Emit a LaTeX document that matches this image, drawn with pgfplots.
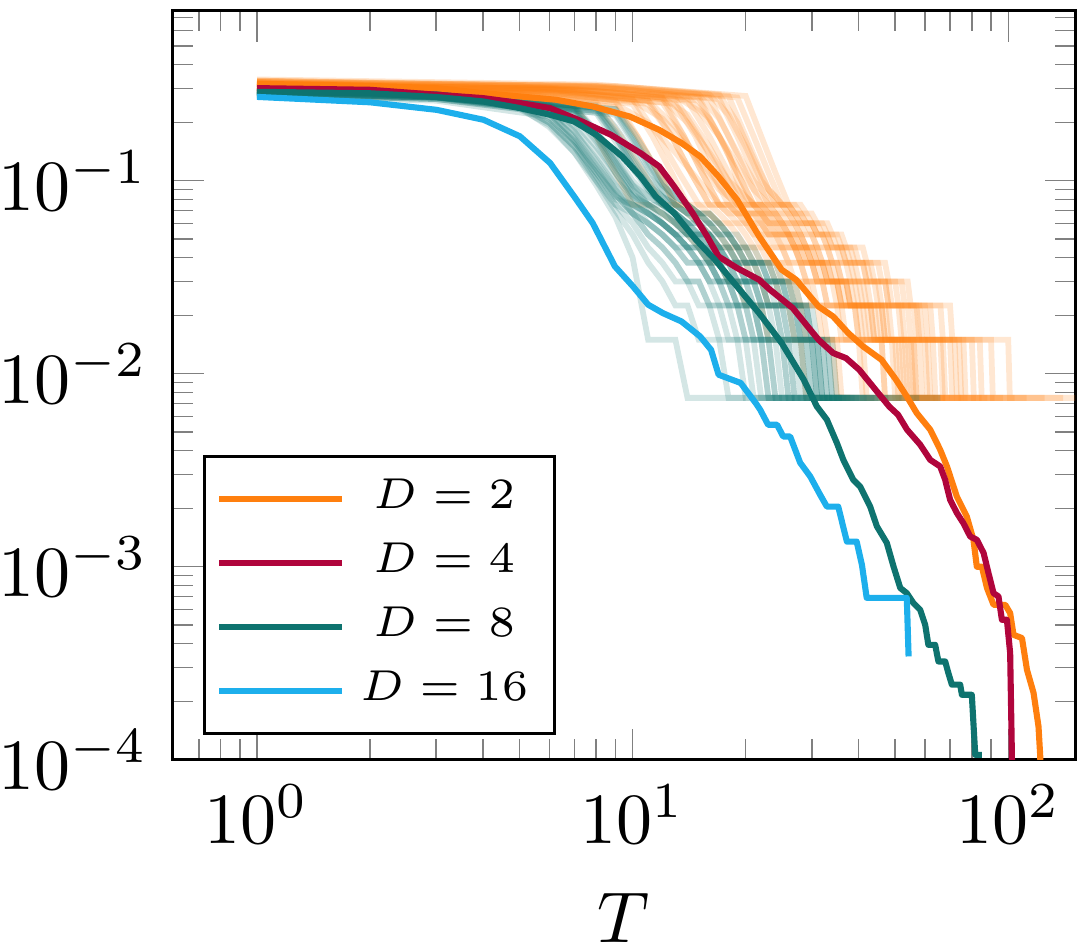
\documentclass[border=0pt]{standalone}
\usepackage{pgfplots}
\pgfplotsset{compat=1.18}
\definecolor{orng}{HTML}{FF7F0E}
\definecolor{crim}{HTML}{B0053C}
\definecolor{tealc}{HTML}{0E736F}
\definecolor{skyb}{HTML}{1DAFEC}
\pgfplotsset{
  orf/.style={forget plot, draw=orng, draw opacity=0.19, line width=0.8pt},
  tlf/.style={forget plot, draw=tealc, draw opacity=0.18, line width=0.8pt},
  mainl/.style={line width=0.85pt, line join=round},
}
\begin{document}
\begin{tikzpicture}
\begin{axis}[
  xmode=log, ymode=log,
  scale only axis, width=125.3pt, height=104pt,
  xmin=0.597, xmax=150.8, ymin=1e-4, ymax=0.76,
  xlabel={$T$},
  tick style={gray},
  legend cell align=center,
  legend style={at={(0.033,0.033)}, anchor=south west, draw=black,
    row sep=-0.7pt, inner ysep=1.1pt, inner xsep=1.7pt,
    font=\fontsize{6.5}{7.8}\selectfont},
]
% ---- faint D=2 traces ----
\addplot[orf] coordinates {(1,.305)(4,.285)(7,.245)(8,.17)(9,.11)(10,.0752)(11,.0752)(12,.0677)(13,.0602)(14,.0526)(15,.0451)(16,.0376)(17,.0376)(18,.0301)(19,.0301)(20,.0226)(22,.0226)(23,.0150)(28,.0150)(29,.0075)(38,.0075)};
\addplot[orf] coordinates {(1,.315)(4,.295)(8,.255)(9.3,.17)(10.7,.11)(12,.0752)(13,.0752)(14,.0677)(15,.0602)(16,.0526)(17,.0451)(18,.0451)(19,.0376)(20,.0376)(21,.0301)(22,.0301)(23,.0226)(26,.0226)(27,.0150)(34,.0150)(35,.0075)(48,.0075)};
\addplot[orf] coordinates {(1,.295)(5,.28)(9,.24)(10.3,.17)(11.7,.11)(13,.0752)(14,.0752)(15,.0677)(16,.0602)(17,.0526)(18,.0451)(19,.0451)(20,.0376)(21,.0376)(22,.0301)(24,.0301)(25,.0226)(28,.0226)(29,.0150)(35,.0150)(36,.0075)(44,.0075)};
\addplot[orf] coordinates {(1,.325)(5,.30)(9,.26)(10.3,.17)(11.7,.11)(13,.0752)(14,.0752)(15,.0677)(16,.0677)(17,.0602)(18,.0526)(19,.0451)(20,.0451)(21,.0376)(23,.0376)(24,.0301)(26,.0301)(27,.0226)(31,.0226)(32,.0150)(40,.0150)(41,.0075)(55,.0075)};
\addplot[orf] coordinates {(1,.31)(5,.29)(10,.25)(11.3,.17)(12.7,.11)(14,.0752)(15,.0752)(16,.0677)(17,.0602)(18,.0602)(19,.0526)(20,.0451)(21,.0451)(22,.0376)(24,.0376)(25,.0301)(27,.0301)(28,.0226)(32,.0226)(33,.0150)(41,.0150)(42,.0075)(52,.0075)};
\addplot[orf] coordinates {(1,.33)(5,.31)(10,.265)(11.7,.17)(13.3,.11)(15,.0752)(16,.0752)(17,.0677)(18,.0602)(19,.0602)(20,.0526)(21,.0451)(22,.0451)(23,.0376)(25,.0376)(26,.0301)(29,.0301)(30,.0226)(35,.0226)(36,.0150)(46,.0150)(47,.0075)(60,.0075)};
\addplot[orf] coordinates {(1,.30)(6,.285)(11,.25)(12.7,.17)(14.3,.11)(16,.0752)(17,.0752)(18,.0677)(19,.0602)(20,.0602)(21,.0526)(22,.0451)(23,.0451)(24,.0376)(26,.0376)(27,.0301)(30,.0301)(31,.0226)(36,.0226)(37,.0150)(46,.0150)(47,.0075)(58,.0075)};
\addplot[orf] coordinates {(1,.32)(6,.30)(11,.26)(12.7,.17)(14.3,.11)(16,.0752)(17,.0752)(18,.0677)(19,.0677)(20,.0602)(21,.0526)(22,.0526)(23,.0451)(25,.0451)(26,.0376)(28,.0376)(29,.0301)(32,.0301)(33,.0226)(39,.0226)(40,.0150)(52,.0150)(53,.0075)(66,.0075)};
\addplot[orf] coordinates {(1,.305)(6,.29)(12,.255)(13.7,.17)(15.3,.11)(17,.0752)(18,.0752)(19,.0677)(20,.0602)(21,.0602)(22,.0526)(23,.0526)(24,.0451)(25,.0451)(26,.0376)(28,.0376)(29,.0301)(32,.0301)(33,.0226)(39,.0226)(40,.0150)(50,.0150)(51,.0075)(62,.0075)};
\addplot[orf] coordinates {(1,.325)(6,.305)(12,.27)(13.7,.17)(15.3,.11)(17,.0752)(18,.0752)(19,.0677)(20,.0677)(21,.0602)(22,.0602)(23,.0526)(24,.0526)(25,.0451)(27,.0451)(28,.0376)(30,.0376)(31,.0301)(35,.0301)(36,.0226)(43,.0226)(44,.0150)(56,.0150)(57,.0075)(70,.0075)};
\addplot[orf] coordinates {(1,.295)(7,.28)(13,.25)(14.7,.17)(16.3,.11)(18,.0752)(19,.0752)(20,.0677)(21,.0677)(22,.0602)(23,.0526)(24,.0526)(25,.0451)(27,.0451)(28,.0376)(30,.0376)(31,.0301)(35,.0301)(36,.0226)(42,.0226)(43,.0150)(53,.0150)(54,.0075)(64,.0075)};
\addplot[orf] coordinates {(1,.315)(7,.30)(13,.265)(15,.17)(17,.11)(19,.0752)(20,.0752)(21,.0677)(22,.0677)(23,.0602)(24,.0602)(25,.0526)(26,.0526)(27,.0451)(28,.0451)(29,.0376)(32,.0376)(33,.0301)(37,.0301)(38,.0226)(46,.0226)(47,.0150)(60,.0150)(61,.0075)(75,.0075)};
\addplot[orf] coordinates {(1,.30)(7,.285)(14,.26)(16,.17)(18,.11)(20,.0752)(21,.0752)(22,.0677)(23,.0602)(24,.0602)(25,.0526)(26,.0526)(27,.0451)(29,.0451)(30,.0376)(33,.0376)(34,.0301)(38,.0301)(39,.0226)(46,.0226)(47,.0150)(58,.0150)(59,.0075)(68,.0075)};
\addplot[orf] coordinates {(1,.33)(8,.31)(15,.27)(17,.17)(19,.11)(21,.0752)(22,.0752)(23,.0677)(24,.0677)(25,.0602)(26,.0602)(27,.0526)(28,.0526)(29,.0451)(31,.0451)(32,.0376)(35,.0376)(36,.0301)(41,.0301)(42,.0226)(51,.0226)(52,.0150)(66,.0150)(67,.0075)(82,.0075)};
\addplot[orf] coordinates {(1,.31)(8,.295)(15,.26)(17,.17)(19,.11)(21,.0752)(22,.0752)(23,.0677)(24,.0602)(25,.0602)(26,.0526)(27,.0526)(28,.0451)(30,.0451)(31,.0376)(34,.0376)(35,.0301)(39,.0301)(40,.0226)(48,.0226)(49,.0150)(61,.0150)(62,.0075)(72,.0075)};
\addplot[orf] coordinates {(1,.32)(8,.305)(16,.27)(18,.17)(20,.11)(22,.0752)(23,.0752)(24,.0677)(25,.0677)(26,.0602)(27,.0602)(28,.0526)(30,.0526)(31,.0451)(33,.0451)(34,.0376)(38,.0376)(39,.0301)(44,.0301)(45,.0226)(56,.0226)(57,.0150)(76,.0150)(77,.0075)(97,.0075)};
\addplot[orf] coordinates {(1,.305)(9,.29)(17,.265)(19,.17)(21,.11)(23,.0752)(24,.0752)(25,.0677)(26,.0677)(27,.0602)(28,.0602)(29,.0526)(30,.0526)(31,.0451)(33,.0451)(34,.0376)(37,.0376)(38,.0301)(42,.0301)(43,.0226)(52,.0226)(53,.0150)(67,.0150)(68,.0075)(78,.0075)};
\addplot[orf] coordinates {(1,.325)(9,.31)(18,.275)(20,.17)(22,.11)(24,.0752)(25,.0752)(26,.0677)(27,.0677)(28,.0602)(30,.0602)(31,.0526)(32,.0526)(33,.0451)(36,.0451)(37,.0376)(41,.0376)(42,.0301)(48,.0301)(49,.0226)(60,.0226)(61,.0150)(84,.0150)(85,.0075)(112,.0075)};
\addplot[orf] coordinates {(1,.31)(10,.30)(19,.27)(21,.17)(23,.11)(25,.0752)(26,.0752)(27,.0677)(28,.0677)(29,.0602)(30,.0602)(31,.0526)(33,.0526)(34,.0451)(37,.0451)(38,.0376)(42,.0376)(43,.0301)(47,.0301)(48,.0226)(58,.0226)(59,.0150)(74,.0150)(75,.0075)(88,.0075)};
\addplot[orf] coordinates {(1,.32)(10,.305)(20,.275)(22,.17)(24,.11)(26,.0752)(28,.0752)(29,.0677)(30,.0677)(31,.0602)(33,.0602)(34,.0526)(36,.0526)(37,.0451)(41,.0451)(42,.0376)(47,.0376)(48,.0301)(54,.0301)(55,.0226)(70,.0226)(71,.0150)(100,.0150)(101,.0075)(155,.0075)};
\addplot[orf] coordinates {(1,.30)(5,.28)(9,.25)(11,.20)(13,.14)(15,.10)(17,.0752)(18,.0752)(19,.0677)(21,.0677)(22,.0602)(23,.0526)(25,.0526)(26,.0451)(28,.0451)(29,.0376)(31,.0376)(32,.0301)(35,.0301)(36,.0226)(41,.0226)(42,.0150)(49,.0150)(50,.0075)(57,.0075)};
\addplot[orf] coordinates {(1,.32)(6,.30)(12,.27)(14,.22)(16,.15)(18,.10)(20,.0827)(21,.0752)(23,.0752)(24,.0677)(25,.0602)(27,.0602)(28,.0526)(29,.0451)(31,.0451)(32,.0376)(35,.0376)(36,.0301)(40,.0301)(41,.0226)(47,.0226)(48,.0150)(63,.0150)(64,.0075)(92,.0075)};
\addplot[orf] coordinates {(1,.31)(7,.295)(14,.27)(16,.21)(18,.14)(19,.10)(20,.0827)(21,.0752)(22,.0677)(24,.0677)(25,.0602)(26,.0526)(27,.0526)(28,.0451)(30,.0451)(31,.0376)(33,.0376)(34,.0301)(37,.0301)(38,.0226)(44,.0226)(45,.0150)(55,.0150)(56,.0075)(65,.0075)};
\addplot[orf] coordinates {(1,.335)(8,.315)(17,.28)(19,.20)(21,.13)(23,.09)(24,.0827)(25,.0752)(27,.0752)(28,.0677)(29,.0602)(31,.0602)(32,.0526)(34,.0526)(35,.0451)(38,.0451)(39,.0376)(43,.0376)(44,.0301)(50,.0301)(51,.0226)(62,.0226)(63,.0150)(80,.0150)(81,.0075)(125,.0075)};
\addplot[orf] coordinates {(1,.30)(5,.285)(10,.26)(12,.21)(14,.15)(16,.105)(17,.09)(18,.0827)(19,.0752)(20,.0677)(22,.0677)(23,.0602)(24,.0526)(26,.0526)(27,.0451)(28,.0376)(30,.0376)(31,.0301)(34,.0301)(35,.0226)(40,.0226)(41,.0150)(51,.0150)(52,.0075)(61,.0075)};
\addplot[orf] coordinates {(1,.315)(6,.30)(13,.275)(15,.23)(17,.17)(19,.12)(21,.09)(22,.0827)(23,.0752)(25,.0752)(26,.0677)(27,.0602)(29,.0602)(30,.0526)(32,.0526)(33,.0451)(35,.0451)(36,.0376)(39,.0376)(40,.0301)(45,.0301)(46,.0226)(54,.0226)(55,.0150)(70,.0150)(71,.0075)(85,.0075)};
\addplot[orf] coordinates {(1,.325)(8,.31)(16,.28)(18,.22)(20,.15)(22,.10)(23,.0902)(24,.0827)(25,.0752)(26,.0752)(27,.0677)(29,.0677)(30,.0602)(32,.0602)(33,.0526)(35,.0526)(36,.0451)(39,.0451)(40,.0376)(45,.0376)(46,.0301)(52,.0301)(53,.0226)(66,.0226)(67,.0150)(90,.0150)(91,.0075)(140,.0075)};
\addplot[orf] coordinates {(1,.305)(6,.29)(11,.26)(13,.19)(15,.13)(17,.095)(18,.0827)(19,.0752)(21,.0752)(22,.0677)(23,.0602)(24,.0526)(26,.0526)(27,.0451)(29,.0451)(30,.0376)(32,.0376)(33,.0301)(36,.0301)(37,.0226)(43,.0226)(44,.0150)(54,.0150)(55,.0075)(68,.0075)};
\addplot[orf] coordinates {(1,.33)(7,.31)(15,.28)(17,.21)(19,.14)(21,.10)(22,.0902)(23,.0827)(24,.0752)(26,.0752)(27,.0677)(28,.0602)(30,.0602)(31,.0526)(33,.0526)(34,.0451)(36,.0451)(37,.0376)(41,.0376)(42,.0301)(47,.0301)(48,.0226)(57,.0226)(58,.0150)(72,.0150)(73,.0075)(104,.0075)};
\addplot[orf] coordinates {(1,.31)(6,.295)(12,.265)(14,.20)(16,.14)(18,.10)(19,.0827)(20,.0752)(22,.0752)(23,.0677)(24,.0602)(25,.0602)(26,.0526)(28,.0526)(29,.0451)(30,.0376)(32,.0376)(33,.0301)(37,.0301)(38,.0226)(45,.0226)(46,.0150)(56,.0150)(57,.0075)(76,.0075)};
% ---- faint D=8 traces ----
\addplot[tlf] coordinates {(1,.28)(3,.265)(5,.235)(6,.195)(7,.14)(8,.095)(9,.065)(10,.04)(11,.0150)(13,.0150)(14,.0075)(20,.0075)};
\addplot[tlf] coordinates {(1,.29)(3,.27)(5,.24)(6,.20)(7,.15)(8,.10)(9,.07)(10,.0526)(11,.0376)(12,.0301)(13,.0226)(14,.0226)(15,.0150)(17,.0150)(18,.0075)(24,.0075)};
\addplot[tlf] coordinates {(1,.285)(3,.27)(5,.24)(6,.19)(7,.14)(8,.10)(9,.0752)(10,.0602)(11,.0451)(12,.0376)(13,.0301)(14,.0301)(15,.0226)(16,.0226)(17,.0150)(19,.0150)(20,.0075)(26,.0075)};
\addplot[tlf] coordinates {(1,.295)(3,.28)(5,.245)(6,.20)(7,.15)(8,.11)(9,.085)(10,.0677)(11,.0602)(12,.0526)(13,.0451)(14,.0376)(15,.0376)(16,.0301)(17,.0301)(18,.0226)(19,.0226)(20,.0150)(22,.0150)(23,.0075)(28,.0075)};
\addplot[tlf] coordinates {(1,.275)(3,.26)(6,.215)(7,.155)(8,.105)(9,.0752)(10,.0677)(11,.0602)(12,.0526)(13,.0451)(14,.0451)(15,.0376)(16,.0301)(17,.0301)(18,.0226)(20,.0226)(21,.0150)(23,.0150)(24,.0075)(29,.0075)};
\addplot[tlf] coordinates {(1,.29)(3,.275)(6,.23)(7,.165)(8,.115)(9,.0827)(10,.0752)(11,.0677)(12,.0602)(13,.0526)(14,.0451)(15,.0451)(16,.0376)(17,.0376)(18,.0301)(19,.0301)(20,.0226)(22,.0226)(23,.0150)(25,.0150)(26,.0075)(30,.0075)};
\addplot[tlf] coordinates {(1,.30)(3,.285)(6,.24)(7,.18)(8,.125)(9,.09)(10,.0752)(11,.0677)(12,.0602)(13,.0526)(14,.0526)(15,.0451)(16,.0376)(17,.0376)(18,.0301)(20,.0301)(21,.0226)(23,.0226)(24,.0150)(27,.0150)(28,.0075)(31,.0075)};
\addplot[tlf] coordinates {(1,.28)(3,.27)(7,.22)(8,.16)(9,.11)(10,.0827)(11,.0752)(12,.0677)(13,.0602)(14,.0526)(15,.0526)(16,.0451)(17,.0376)(18,.0376)(19,.0301)(21,.0301)(22,.0226)(24,.0226)(25,.0150)(28,.0150)(29,.0075)(32,.0075)};
\addplot[tlf] coordinates {(1,.29)(3,.275)(7,.235)(8,.17)(9,.12)(10,.09)(11,.0752)(12,.0752)(13,.0677)(14,.0602)(15,.0526)(16,.0526)(17,.0451)(18,.0376)(19,.0376)(20,.0301)(22,.0301)(23,.0226)(25,.0226)(26,.0150)(29,.0150)(30,.0075)(33,.0075)};
\addplot[tlf] coordinates {(1,.295)(3,.28)(7,.245)(8,.18)(9,.13)(10,.095)(11,.0827)(12,.0752)(13,.0677)(14,.0602)(15,.0602)(16,.0526)(17,.0451)(18,.0451)(19,.0376)(20,.0301)(22,.0301)(23,.0226)(26,.0226)(27,.0150)(30,.0150)(31,.0075)(34,.0075)};
\addplot[tlf] coordinates {(1,.285)(3,.275)(8,.225)(9,.16)(10,.115)(11,.09)(12,.0752)(13,.0677)(14,.0602)(15,.0602)(16,.0526)(17,.0451)(18,.0451)(19,.0376)(21,.0376)(22,.0301)(24,.0301)(25,.0226)(27,.0226)(28,.0150)(31,.0150)(32,.0075)(35,.0075)};
\addplot[tlf] coordinates {(1,.30)(3,.285)(8,.24)(9,.175)(10,.125)(11,.095)(12,.0827)(13,.0752)(14,.0677)(15,.0677)(16,.0602)(17,.0526)(18,.0526)(19,.0451)(20,.0376)(22,.0376)(23,.0301)(25,.0301)(26,.0226)(28,.0226)(29,.0150)(31,.0150)(32,.0075)(36,.0075)};
\addplot[tlf] coordinates {(1,.29)(3,.28)(8,.23)(9,.17)(10,.12)(11,.095)(12,.0827)(13,.0752)(14,.0677)(16,.0677)(17,.0602)(18,.0526)(19,.0451)(20,.0451)(21,.0376)(23,.0376)(24,.0301)(26,.0301)(27,.0226)(29,.0226)(30,.0150)(32,.0150)(33,.0075)(38,.0075)};
\addplot[tlf] coordinates {(1,.28)(3,.27)(9,.22)(10,.16)(11,.115)(12,.09)(13,.0752)(14,.0677)(15,.0602)(16,.0602)(17,.0526)(18,.0451)(19,.0451)(20,.0376)(22,.0376)(23,.0301)(25,.0301)(26,.0226)(28,.0226)(29,.0150)(32,.0150)(33,.0075)(40,.0075)};
\addplot[tlf] coordinates {(1,.295)(3,.28)(9,.235)(10,.17)(11,.125)(12,.095)(13,.0827)(14,.0752)(15,.0677)(16,.0602)(17,.0602)(18,.0526)(19,.0451)(20,.0451)(21,.0376)(23,.0376)(24,.0301)(26,.0301)(27,.0226)(29,.0226)(30,.0150)(33,.0150)(34,.0075)(42,.0075)};
\addplot[tlf] coordinates {(1,.285)(3,.27)(7,.23)(8,.165)(9,.115)(10,.085)(11,.0752)(12,.0677)(13,.0602)(14,.0526)(15,.0526)(16,.0451)(17,.0376)(18,.0376)(19,.0301)(21,.0301)(22,.0226)(25,.0226)(26,.0150)(30,.0150)(31,.0075)(45,.0075)};
\addplot[tlf] coordinates {(1,.28)(3,.265)(6,.225)(7,.16)(8,.11)(9,.08)(10,.0752)(11,.0677)(12,.0602)(13,.0526)(14,.0451)(15,.0451)(16,.0376)(17,.0301)(18,.0301)(19,.0226)(21,.0226)(22,.0150)(26,.0150)(27,.0075)(48,.0075)};
\addplot[tlf] coordinates {(1,.29)(3,.28)(8,.235)(9,.17)(10,.12)(11,.09)(12,.0752)(13,.0677)(14,.0602)(15,.0526)(16,.0526)(17,.0451)(18,.0376)(20,.0376)(21,.0301)(23,.0301)(24,.0226)(27,.0226)(28,.0150)(31,.0150)(32,.0075)(52,.0075)};
\addplot[tlf] coordinates {(1,.30)(3,.285)(7,.24)(8,.175)(9,.125)(10,.09)(11,.0752)(12,.0677)(13,.0602)(14,.0526)(16,.0526)(17,.0451)(18,.0376)(19,.0376)(20,.0301)(22,.0301)(23,.0226)(26,.0226)(27,.0150)(29,.0150)(30,.0075)(58,.0075)};
\addplot[tlf] coordinates {(1,.285)(3,.275)(9,.225)(10,.165)(11,.12)(12,.095)(13,.0827)(14,.0752)(15,.0677)(16,.0677)(17,.0602)(18,.0526)(19,.0526)(20,.0451)(21,.0451)(22,.0376)(24,.0376)(25,.0301)(27,.0301)(28,.0226)(30,.0226)(31,.0150)(34,.0150)(35,.0075)(66,.0075)};
\addplot[tlf] coordinates {(1,.28)(3,.27)(5,.25)(6,.22)(7,.17)(8,.12)(9,.09)(10,.0677)(11,.0526)(12,.0451)(13,.0376)(14,.0301)(15,.0301)(16,.0226)(18,.0226)(19,.0150)(21,.0150)(22,.0075)(27,.0075)};
\addplot[tlf] coordinates {(1,.295)(3,.28)(6,.245)(7,.19)(8,.14)(9,.10)(10,.0827)(11,.0677)(12,.0602)(13,.0526)(14,.0451)(15,.0376)(16,.0376)(17,.0301)(19,.0301)(20,.0226)(21,.0226)(22,.0150)(24,.0150)(25,.0075)(33,.0075)};
\addplot[tlf] coordinates {(1,.285)(3,.27)(7,.235)(8,.18)(9,.135)(10,.10)(11,.0827)(12,.0752)(13,.0602)(14,.0526)(15,.0451)(16,.0451)(17,.0376)(18,.0301)(20,.0301)(21,.0226)(22,.0226)(23,.0150)(26,.0150)(27,.0075)(37,.0075)};
\addplot[tlf] coordinates {(1,.29)(3,.28)(8,.245)(9,.19)(10,.14)(11,.105)(12,.0902)(13,.0752)(14,.0677)(15,.0602)(16,.0526)(17,.0526)(18,.0451)(19,.0376)(21,.0376)(22,.0301)(24,.0301)(25,.0226)(27,.0226)(28,.0150)(30,.0150)(31,.0075)(39,.0075)};
\addplot[tlf] coordinates {(1,.30)(3,.285)(6,.25)(7,.20)(8,.15)(9,.11)(10,.0827)(11,.0677)(12,.0602)(13,.0526)(14,.0451)(15,.0376)(16,.0376)(17,.0301)(18,.0301)(19,.0226)(20,.0226)(21,.0150)(23,.0150)(24,.0075)(30,.0075)};
\addplot[tlf] coordinates {(1,.28)(3,.265)(7,.225)(8,.17)(9,.125)(10,.095)(11,.0752)(12,.0602)(13,.0526)(14,.0451)(15,.0451)(16,.0376)(17,.0301)(18,.0301)(19,.0226)(21,.0226)(22,.0150)(25,.0150)(26,.0075)(34,.0075)};
\addplot[tlf] coordinates {(1,.29)(3,.275)(9,.235)(10,.18)(11,.135)(12,.10)(13,.0827)(14,.0752)(15,.0677)(16,.0602)(17,.0526)(18,.0526)(19,.0451)(20,.0376)(22,.0376)(23,.0301)(25,.0301)(26,.0226)(29,.0226)(30,.0150)(33,.0150)(34,.0075)(44,.0075)};
\addplot[tlf] coordinates {(1,.285)(3,.27)(6,.235)(7,.18)(8,.13)(9,.095)(10,.0752)(11,.0602)(12,.0526)(13,.0451)(14,.0376)(15,.0376)(16,.0301)(17,.0226)(19,.0226)(20,.0150)(22,.0150)(23,.0075)(27,.0075)};
\addplot[tlf] coordinates {(1,.295)(3,.28)(8,.24)(9,.18)(10,.13)(11,.10)(12,.0827)(13,.0677)(14,.0602)(15,.0526)(16,.0451)(17,.0451)(18,.0376)(19,.0301)(21,.0301)(22,.0226)(24,.0226)(25,.0150)(28,.0150)(29,.0075)(36,.0075)};
\addplot[tlf] coordinates {(1,.29)(3,.275)(5,.245)(6,.21)(7,.16)(8,.115)(9,.085)(10,.0677)(11,.0526)(12,.0451)(13,.0376)(14,.0301)(15,.0301)(16,.0226)(17,.0226)(18,.0150)(20,.0150)(21,.0075)(25,.0075)};
% ---- main curves ----
\addplot[mainl, orng] coordinates {(1,.318)(2,.31)(3.01,.302)(4.0,.2847)(5.01,.2734)(6.24,.263)(7.83,.2427)(9.82,.2153)(11.77,.1836)(13.5,.1568)(15.13,.1336)(16.94,.1052)(18.98,.0797)(21.72,.0515)(24.94,.0346)(27.25,.0307)(31.27,.0223)(34.2,.0198)(37.5,.01626)(41.1,.01385)(46.0,.01181)(50.3,.0093)(53.7,.00763)(57.1,.00625)(62.0,.00513)(65.9,.00404)(68.7,.00331)(73.0,.00231)(77.6,.00182)(80.8,.00138)(82.5,.00100)(85.1,.00100)(87.8,.000776)(91.4,.000635)(98.2,.000635)(101.2,.000575)(103.3,.000444)(108.8,.000427)(112.2,.000292)(116.8,.000222)(120.4,.000149)(121.7,.000104)(122,.00008)};
\addlegendentry{$D=2$}
\addplot[mainl, crim] coordinates {(1,.302)(2,.296)(3.01,.279)(4.0,.268)(5.01,.2527)(6.03,.238)(7.16,.207)(8.76,.173)(10.5,.139)(11.77,.1186)(12.9,.0934)(14.45,.068)(15.79,.0515)(16.94,.0405)(18.98,.0353)(21.72,.0307)(23.24,.0272)(26.69,.0219)(29.23,.0176)(31.27,.0150)(34.2,.0128)(37.0,.01205)(40.1,.0105)(43.96,.00843)(48.2,.00677)(50.9,.00613)(53.8,.00513)(58.3,.00429)(62.0,.00358)(65.9,.00331)(67.95,.00282)(70.05,.00222)(73.0,.0019)(76.0,.00168)(79.2,.001436)(82.5,.00138)(86.0,.001178)(88.6,.000928)(91.4,.00073)(94.2,.000702)(96.2,.000531)(99.2,.000531)(101.2,.000357)(102.3,.000104)(102.4,.00008)};
\addlegendentry{$D=4$}
\addplot[mainl, tealc] coordinates {(1,.289)(2,.284)(3.01,.2715)(4.0,.2576)(5.01,.238)(6.03,.2198)(6.99,.2028)(8.0,.173)(9.38,.1336)(10.5,.1052)(11.52,.0829)(12.9,.068)(14.76,.0494)(16.56,.039)(18.98,.0283)(21.72,.0206)(24.94,.01442)(28.57,.0093)(30.94,.00677)(32.9,.00578)(34.98,.00438)(36.4,.00358)(38.7,.00282)(40.35,.0026)(42.9,.00205)(44.7,.00162)(47.5,.00133)(49.5,.001004)(51.6,.000776)(53.7,.00073)(55.9,.000649)(58.3,.000598)(60.1,.000501)(61.3,.000394)(63.9,.000394)(65.2,.000323)(67.95,.000323)(69.3,.000281)(70.8,.000245)(74.5,.000245)(75.3,.000217)(80.0,.000217)(81.7,.000106)(85.1,.000106)};
\addlegendentry{$D=8$}
\addplot[mainl, skyb] coordinates {(1,.272)(2,.255)(3.01,.233)(4.01,.207)(5.01,.170)(6.03,.1236)(6.99,.0829)(7.83,.0604)(8.97,.036)(10.03,.0283)(11.0,.0228)(12.05,.0206)(13.5,.01866)(15.13,.0156)(16.18,.0133)(16.94,.00989)(19.4,.00896)(21.27,.00705)(21.86,.00651)(22.95,.00544)(24.25,.00544)(25.17,.00473)(26.27,.00473)(27.93,.00346)(29.7,.00294)(31.57,.00236)(32.9,.00205)(35.27,.00205)(37.2,.00135)(39.5,.00135)(40.8,.00102)(42.0,.00069)(53.7,.00069)(54.3,.000343)};
\addlegendentry{$D=16$}
\end{axis}
\pgfresetboundingbox
\path ([shift={(-24pt,-25.8pt)}]current axis.south west) rectangle ([shift={(1.5pt,1.5pt)}]current axis.north east);
\end{tikzpicture}
\end{document}
